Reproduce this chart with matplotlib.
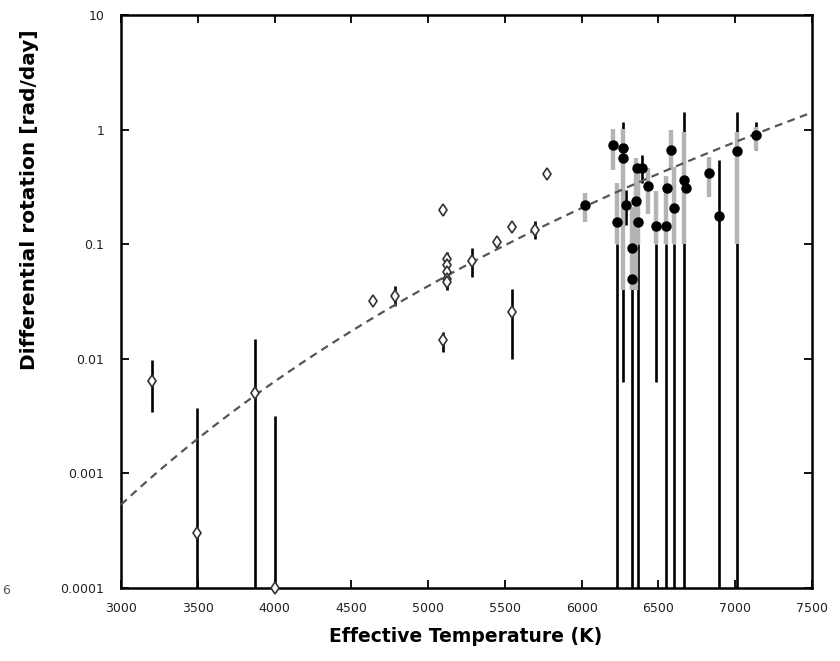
import numpy as np
import matplotlib
matplotlib.use("Agg")
import matplotlib.pyplot as plt

# ---- open diamonds (Barnes-type data) ----
open_T = [3204, 3493, 3873, 4003, 4643, 4784, 5099, 5099, 5126, 5126, 5126, 5126, 5126,
          5284, 5447, 5548, 5548, 5696, 5776]
open_v = [0.0064, 0.0003, 0.005, 0.0001, 0.032, 0.0354, 0.198, 0.0146, 0.075, 0.0656, 0.057,
          0.050, 0.047, 0.071, 0.1035, 0.1415, 0.0254, 0.132, 0.41]
open_lo = [0.0034, 0.0001, 0.0001, 0.0001, np.nan, 0.0288, 0.18, 0.0115, 0.040, np.nan, np.nan,
           np.nan, np.nan, 0.052, np.nan, np.nan, 0.010, 0.112, np.nan]
open_hi = [0.0098, 0.0037, 0.015, 0.0032, np.nan, 0.043, 0.22, 0.0172, 0.085, np.nan, np.nan,
           np.nan, np.nan, 0.093, np.nan, np.nan, 0.041, 0.158, np.nan]

# ---- filled circles (F-star data) ----
fill_T = [6022, 6202, 6267, 6267, 6228, 6287, 6326, 6326, 6352, 6358, 6369, 6391, 6434,
          6484, 6549, 6558, 6582, 6603, 6668, 6677, 6831, 6894, 7009, 7133]
fill_v = [0.22, 0.73, 0.69, 0.565, 0.155, 0.219, 0.092, 0.050, 0.237, 0.46, 0.155, 0.466, 0.32,
          0.144, 0.144, 0.31, 0.67, 0.205, 0.36, 0.31, 0.42, 0.175, 0.647, 0.905]
grey_lo = [0.157, 0.44, 0.04, np.nan, 0.10, np.nan, 0.04, np.nan, 0.04, np.nan, 0.10, np.nan, 0.185,
           0.10, 0.10, np.nan, 0.44, 0.10, 0.10, np.nan, 0.26, np.nan, 0.10, 0.66]
grey_hi = [0.28, 1.02, 1.02, np.nan, 0.34, np.nan, 0.21, np.nan, 0.56, np.nan, 0.50, np.nan, 0.46,
           0.29, 0.39, np.nan, 0.99, 0.47, 0.95, np.nan, 0.58, np.nan, 0.95, 1.05]
black_lo = [np.nan, np.nan, np.nan, 0.0063, 0.0001, 0.146, 0.0001, np.nan, np.nan, np.nan, 0.0001,
            0.34, np.nan, 0.0063, 0.0001, np.nan, np.nan, 0.0001, 0.0001, np.nan, np.nan, 0.0001,
            0.0001, 0.66]
black_hi = [np.nan, np.nan, np.nan, 1.16, 0.10, 0.296, 0.10, np.nan, np.nan, np.nan, 0.10,
            0.60, np.nan, 0.10, 0.10, np.nan, np.nan, 0.10, 1.42, np.nan, np.nan, 0.548,
            1.42, 1.16]

# ---- fit: power law in Teff ----
fit_T0 = 7500.0
fit_v0 = 1.41
fit_exp = 8.6

xticks = [3000, 3500, 4000, 4500, 5000, 5500, 6000, 6500, 7000, 7500]
yticks = [0.0001, 0.001, 0.01, 0.1, 1, 10]
ytick_labels = ["0.0001", "0.001", "0.01", "0.1", "1", "10"]

fig = plt.figure(figsize=(8.4, 6.61), dpi=100)
ax = fig.add_axes([121/840, 1-588/661, (812-121)/840, (588-15)/661])

T = np.asarray(fill_T, float)
gl, gh = np.asarray(grey_lo), np.asarray(grey_hi)
bl, bh = np.asarray(black_lo), np.asarray(black_hi)
mb = ~np.isnan(bl)
ax.vlines(T[mb], bl[mb], bh[mb], colors="black", lw=1.9, zorder=2)
mg = ~np.isnan(gl)
ax.vlines(T[mg], gl[mg], gh[mg], colors="#b4b4b4", lw=3.2, zorder=3)

oT = np.asarray(open_T, float)
ol, oh = np.asarray(open_lo), np.asarray(open_hi)
mo = ~np.isnan(ol)
ax.vlines(oT[mo], ol[mo], oh[mo], colors="black", lw=1.9, zorder=2)

tt = np.linspace(3000, 7500, 300)
ax.plot(tt, fit_v0 * (tt / fit_T0) ** fit_exp, ls=(0, (3.5, 2.5)), color="#555555", lw=1.6, zorder=4)

ax.plot(open_T, open_v, ls="none", marker="d", ms=6, mfc="white", mec="#333333", mew=1.2,
        zorder=5, clip_on=False)
ax.plot(fill_T, fill_v, ls="none", marker="o", ms=6.5, mfc="black", mec="black", zorder=6)

ax.set_yscale("log")
ax.set_xlim(3000, 7500)
ax.set_ylim(0.0001, 10)
ax.set_xticks(xticks)
ax.set_xticklabels([str(x) for x in xticks])
ax.set_yticks(yticks)
ax.set_yticklabels(ytick_labels)
ax.yaxis.set_minor_locator(matplotlib.ticker.NullLocator())
ax.tick_params(axis="both", which="major", direction="in", length=6, width=1.3,
               top=True, right=True, labelsize=9, colors="black", labelcolor="#222222")
ax.tick_params(axis="x", pad=10)
ax.tick_params(axis="y", pad=12)
for s in ax.spines.values():
    s.set_linewidth(1.8)

fig.text(466/840, 1-636/661, "Effective Temperature (K)", ha="center", va="center",
         fontsize=13.5, fontweight="bold")
fig.text(30/840, 1-200/661, "Differential rotation [rad/day]", ha="center", va="center",
         rotation=90, fontsize=14.5, fontweight="bold")
fig.text(2/840, 1-590/661, "6", ha="left", va="center", fontsize=9, color="#555555")

fig.savefig("out.png", dpi=100)
